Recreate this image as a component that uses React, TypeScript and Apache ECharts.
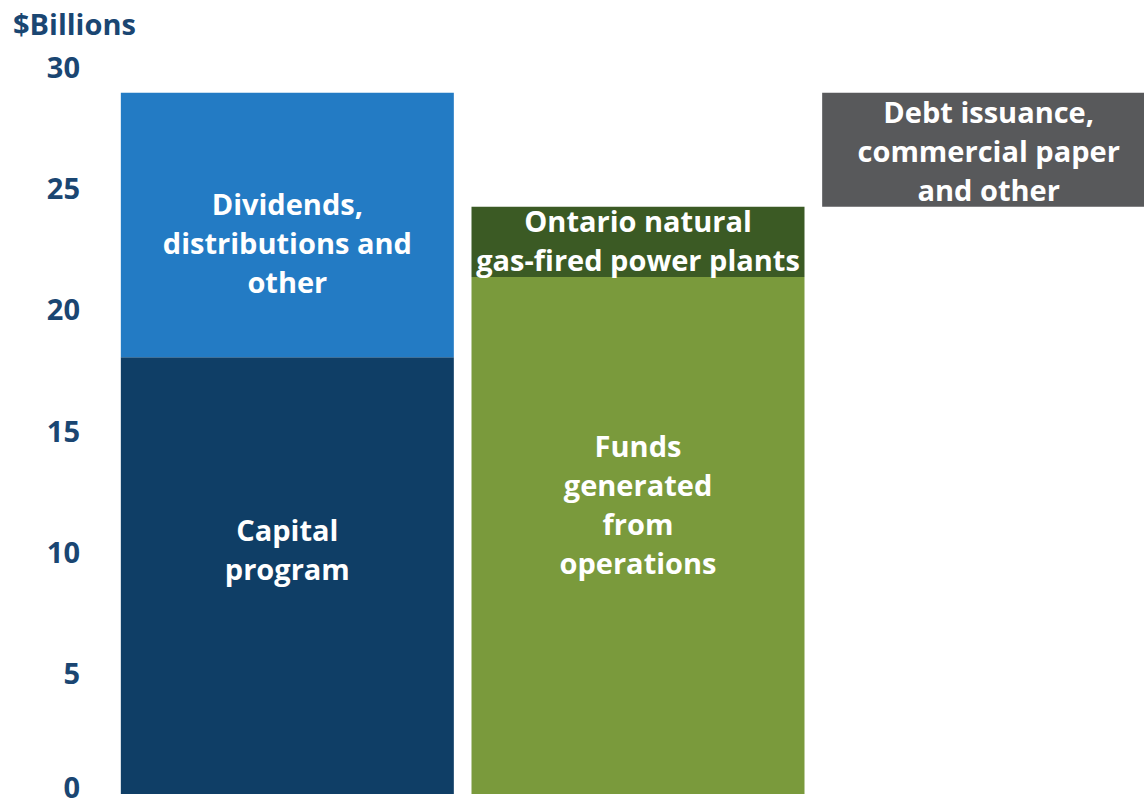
import React, { useEffect, useRef } from "react";
import * as echarts from "echarts";

const categories = ["Uses", "Sources", "Financing"];
const baseValues = [0, 0, 24.2];
const lowerValues = [18, 21.3, 0];
const upperValues = [10.9, 2.9, 4.7];
const lowerLabels = ["Capital\nprogram", "Funds\ngenerated\nfrom\noperations", ""];
const upperLabels = [
  "Dividends,\ndistributions and\nother",
  "Ontario natural\ngas-fired power plants",
  "Debt issuance,\ncommercial paper\nand other",
];
const lowerColors = ["#0F3E66", "#7A9A3C", "#58595B"];
const upperColors = ["#237BC4", "#3B5A24", "#58595B"];
const yTicks = [0, 5, 10, 15, 20, 25, 30];

const FONT = "'Open Sans'";
const AXIS_COLOR = "#1A4672";

export default function App() {
  const ref = useRef<HTMLDivElement>(null);
  useEffect(() => {
    if (!ref.current) return;
    const chart = echarts.init(ref.current, null, { renderer: "svg" });
    const lowerOffsets = [[0, -27], [0, -32], [0, 0]];
    const upperOffsets = [[0, 18], [0, -2], [0, 1]];
    const barLabel = {
      fontFamily: FONT,
      fontWeight: "bold",
      fontSize: 29,
      lineHeight: 39,
      color: "#ffffff",
      align: "center",
    };
    const axisText = {
      fontFamily: FONT,
      fontWeight: "bold",
      fontSize: 29,
      color: AXIS_COLOR,
    };
    chart.setOption({
      animation: false,
      title: {
        text: "$Billions",
        left: 8,
        top: 4,
        textStyle: { ...axisText },
      },
      grid: {
        left: 112,
        top: 66,
        width: 1052,
        height: 728,
        containLabel: false,
        outerBoundsMode: "none",
      },
      xAxis: {
        type: "category",
        data: categories,
        axisLine: { show: false },
        axisTick: { show: false },
        axisLabel: { show: false },
      },
      yAxis: {
        type: "value",
        min: yTicks[0],
        max: yTicks[yTicks.length - 1],
        interval: 5,
        axisLine: { show: false },
        axisTick: { show: false },
        splitLine: { show: false },
        axisLabel: {
          margin: 32,
          ...axisText,
          formatter: (v: number) => (v === 0 ? "{z|0}" : "{n|" + v + "}"),
          rich: {
            n: { ...axisText },
            z: { ...axisText, lineHeight: 24, padding: [0, 0, 16, 0] },
          },
        },
      },
      series: [
        {
          name: "Base",
          type: "bar",
          stack: "total",
          barWidth: 333,
          data: baseValues,
          itemStyle: { color: "transparent" },
          silent: true,
        },
        {
          name: "Lower",
          type: "bar",
          stack: "total",
          barWidth: 333,
          data: lowerValues.map((v, i) => ({
            value: v,
            itemStyle: { color: lowerColors[i] },
            label: {
              show: lowerLabels[i] !== "",
              position: "inside",
              formatter: lowerLabels[i],
              offset: lowerOffsets[i],
            },
          })),
          label: barLabel,
        },
        {
          name: "Upper",
          type: "bar",
          stack: "total",
          barWidth: 333,
          data: upperValues.map((v, i) => ({
            value: v,
            itemStyle: { color: upperColors[i] },
            label: {
              show: true,
              position: "inside",
              formatter: upperLabels[i],
              offset: upperOffsets[i],
            },
          })),
          label: barLabel,
        },
      ],
    });
    return () => chart.dispose();
  }, []);
  return (
    <div
      style={{
        position: "absolute",
        left: 0,
        top: 0,
        width: 1144,
        height: 806,
        overflow: "hidden",
        background: "#ffffff",
      }}
    >
      <div ref={ref} style={{ width: 1170, height: 806 }} />
    </div>
  );
}
